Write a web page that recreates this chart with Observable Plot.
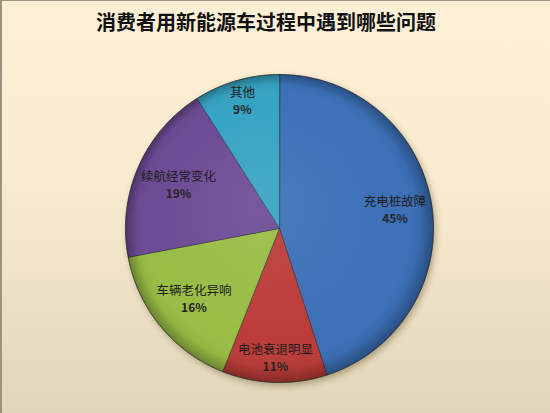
<!DOCTYPE html>
<html><head><meta charset="utf-8">
<script src="https://cdn.jsdelivr.net/npm/d3@7"></script>
<script src="https://cdn.jsdelivr.net/npm/@observablehq/plot@0.6"></script>
<style>
html,body{margin:0;padding:0;}
#wrap{position:relative;width:550px;height:413px;background:linear-gradient(#fdf0d6 0%,#f9ebcf 45%,#e0d6b8 100%);box-shadow:inset 2px 1px 0 #9a9384;overflow:hidden;font-family:"Noto Sans CJK SC","Noto Sans",sans-serif;}
#title{height:40px;line-height:44px;text-align:center;font-size:20px;font-weight:700;color:#111;padding-right:18px;}
#chart svg{display:block;overflow:visible;}
</style></head><body>
<div id="wrap"><div id="title">消费者用新能源车过程中遇到哪些问题</div><div id="chart"></div></div>
<script>
const categories = ["充电桩故障","电池衰退明显","车辆老化异响","续航经常变化","其他"];
const shares = [45, 11, 16, 19, 9];
const percentLabels = ["45%", "11%", "16%", "19%", "9%"];
const colors = ["#3c70b7", "#bb3d39", "#99bd45", "#6d4b95", "#36a3c3"];

const R = 154; // pixel radius
const arcs = d3.pie().sort(null).value(d => d)(shares);

// slice polygons in unit coordinates (y up)
const sliceRows = [];
arcs.forEach((a, i) => {
  sliceRows.push({cat: categories[i], x: 0, y: 0});
  const n = Math.max(2, Math.ceil((a.endAngle - a.startAngle) / 0.01));
  for (let k = 0; k <= n; k++) {
    const t = a.startAngle + (a.endAngle - a.startAngle) * k / n;
    sliceRows.push({cat: categories[i], x: Math.sin(t), y: Math.cos(t)});
  }
});
const circleRows = d3.range(0, 361).map(k => {
  const t = k * Math.PI / 180;
  return {x: Math.sin(t), y: Math.cos(t)};
});

// label placement: push box outward along mid angle until it touches the rim
const labelRows = arcs.map((a, i) => {
  const m = (a.startAngle + a.endAngle) / 2;
  const ux = Math.sin(m), uy = Math.cos(m);
  const w = categories[i].length * 12.6 + 2, h = 30, lim = R - 2;
  let d = 0;
  for (let s = 0; s < 200; s++) {
    const cx = ux * d, cy = uy * d;
    let ok = true;
    for (const sx of [-1, 1]) for (const sy of [-1, 1]) {
      if (Math.hypot(cx + sx * w / 2, cy + sy * h / 2) > lim) ok = false;
    }
    if (!ok) break;
    d += 1;
  }
  d -= 1;
  return {cat: categories[i], pct: percentLabels[i], x: ux * d / R, y: uy * d / R};
});

const plot = Plot.plot({
  width: 550,
  height: 373,
  marginLeft: 125,
  marginRight: 117,
  marginTop: 34,
  marginBottom: 31,
  x: {domain: [-1, 1], axis: null},
  y: {domain: [-1, 1], axis: null},
  color: {domain: categories, range: colors},
  style: {background: "transparent", overflow: "visible"},
  marks: [
    Plot.line(sliceRows, {x: "x", y: "y", z: "cat", fill: "cat", stroke: "#1c2630", strokeOpacity: 0.55, strokeWidth: 1, curve: "linear-closed"}),
    Plot.line(circleRows, {x: "x", y: "y", fill: "url(#rimShade)", stroke: "#2a2a2a", strokeOpacity: 0.35, strokeWidth: 1, curve: "linear-closed"}),
    Plot.text(labelRows, {x: "x", y: "y", text: "cat", dy: -8, fontSize: 12.5, fill: "#1d1d1d", fontFamily: "Noto Sans CJK SC"}),
    Plot.text(labelRows, {x: "x", y: "y", text: "pct", dy: 9, fontSize: 12, fontWeight: "bold", fill: "#262626", fontFamily: "Noto Sans CJK SC"})
  ]
});

const ns = "http://www.w3.org/2000/svg";
const defs = document.createElementNS(ns, "defs");
defs.innerHTML = `
<radialGradient id="rimShade" cx="50%" cy="50%" r="50%" fx="42%" fy="40%">
  <stop offset="0" stop-color="#ffffff" stop-opacity="0.08"/>
  <stop offset="0.80" stop-color="#ffffff" stop-opacity="0"/>
  <stop offset="0.92" stop-color="#000000" stop-opacity="0.04"/>
  <stop offset="1" stop-color="#000000" stop-opacity="0.30"/>
</radialGradient>`;
plot.insertBefore(defs, plot.firstChild);
const lineGroups = plot.querySelectorAll('g[aria-label="line"]');
if (lineGroups[0]) lineGroups[0].style.filter = "drop-shadow(2px 3px 3px rgba(60,40,0,0.35))";
document.getElementById("chart").appendChild(plot);
</script>
</body></html>
